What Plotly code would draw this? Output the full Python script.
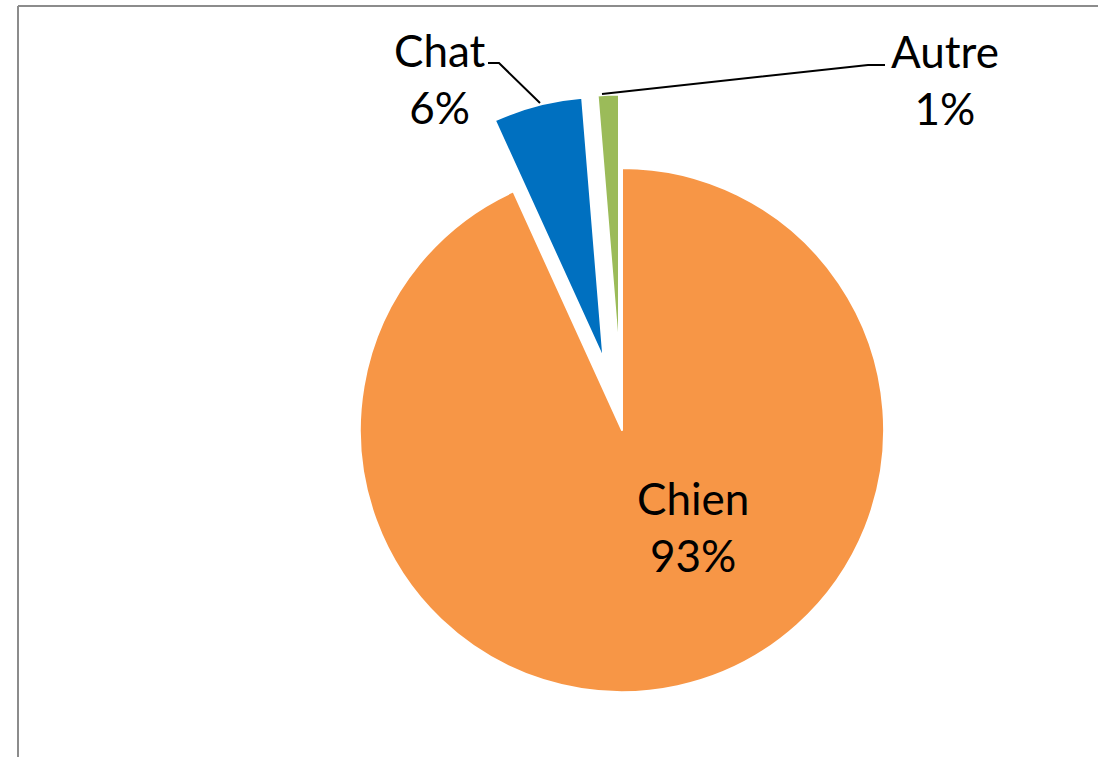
import plotly.graph_objects as go

# données (part des animaux, en %)
animaux = ["Chien", "Chat", "Autre"]
parts = [93.2, 5.5, 1.3]
couleurs = ["#F79646", "#0070C0", "#9BBB59"]
eclate = [0, 0.28, 0.28]

# la figure est un peu plus haute que la fenêtre : le bas du cadre est coupé
W, H = 1098, 830


def px(x):
    return x / W


def py(y):
    return 1 - y / H


total = sum(parts)
etiquettes = [f"{a}<br>{round(100 * v / total):.0f}%" for a, v in zip(animaux, parts)]

fig = go.Figure()
fig.add_trace(
    go.Pie(
        labels=animaux,
        values=parts,
        marker=dict(colors=couleurs, line=dict(color="white", width=2)),
        pull=eclate,
        sort=False,
        direction="clockwise",
        rotation=0,
        textinfo="none",
        hoverinfo="label+percent",
        showlegend=False,
        domain=dict(x=[px(286.5), px(957.5)], y=[py(765.5), py(94.5)]),
    )
)

# positions des étiquettes (Chien dans la part, Chat et Autre à l'extérieur)
pos_etiq = {"Chien": (693, 526), "Chat": (440, 78), "Autre": (945, 80)}
for nom, txt in zip(animaux, etiquettes):
    x, y = pos_etiq[nom]
    fig.add_annotation(
        x=px(x), y=py(y), xref="paper", yref="paper",
        text=txt, showarrow=False,
        xanchor="center", yanchor="middle",
        font=dict(family="Lato", size=44, color="black"),
    )

# lignes de rappel
def chemin(points):
    return "M " + " L ".join(f"{px(x)} {py(y)}" for x, y in points)


fig.add_shape(type="path", xref="paper", yref="paper",
              path=chemin([(488, 63), (499, 63), (540, 103)]),
              line=dict(color="black", width=2))
fig.add_shape(type="path", xref="paper", yref="paper",
              path=chemin([(602, 94), (868, 65), (885, 65)]),
              line=dict(color="black", width=2))

# bordure de la zone de graphique
fig.add_shape(type="line", xref="paper", yref="paper",
              x0=px(18), x1=px(18), y0=0, y1=py(6),
              line=dict(color="#8c8c8c", width=2))
fig.add_shape(type="line", xref="paper", yref="paper",
              x0=px(18), x1=1, y0=py(6), y1=py(6),
              line=dict(color="#8c8c8c", width=2))

fig.update_layout(
    width=W, height=H,
    margin=dict(l=0, r=0, t=0, b=0),
    paper_bgcolor="white",
    plot_bgcolor="white",
    font_family="Lato",
)

fig.write_html(
    "out.html",
    config={"displayModeBar": False},
    post_script="document.body.style.margin='0';document.body.style.overflow='hidden';",
)
